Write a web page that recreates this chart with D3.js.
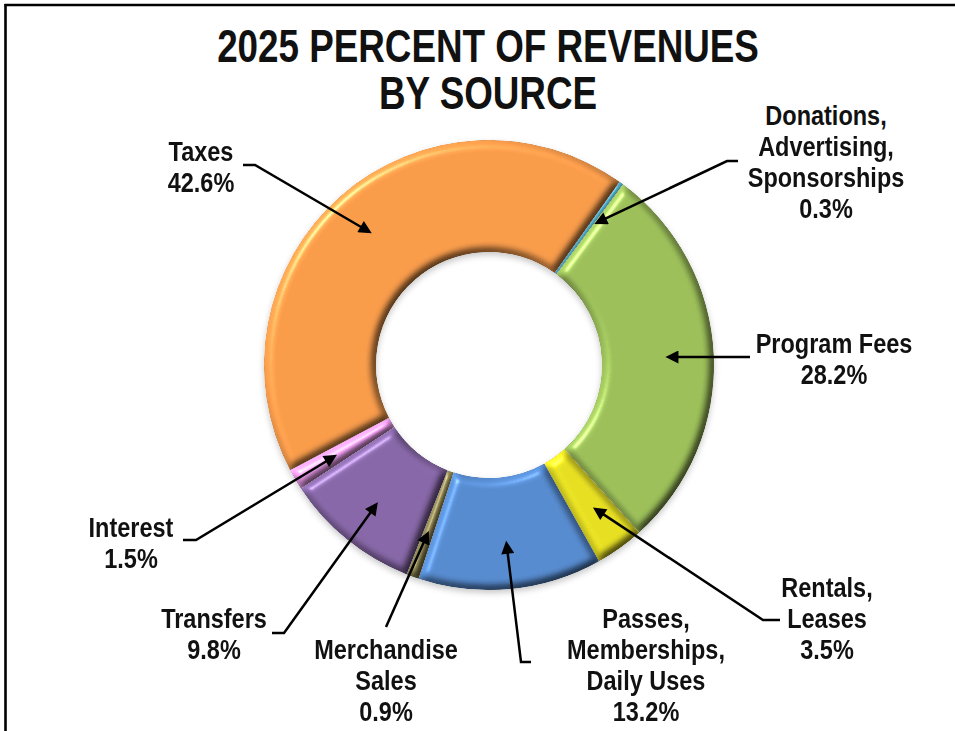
<!DOCTYPE html>
<html>
<head>
<meta charset="utf-8">
<script src="https://cdn.jsdelivr.net/npm/d3@7"></script>
<style>
  html, body { margin: 0; padding: 0; background: #ffffff; }
  svg { display: block; }
  text { font-family: "Liberation Sans", Arial, sans-serif; font-weight: bold; fill: #111; }
</style>
</head>
<body>
<script>
// Revenue sources, listed clockwise from the top of the ring
const categories = [
  "Donations, Advertising, Sponsorships",
  "Program Fees",
  "Rentals, Leases",
  "Passes, Memberships, Daily Uses",
  "Merchandise Sales",
  "Transfers",
  "Interest",
  "Taxes"
];
const shares = [0.3, 28.2, 3.5, 13.2, 0.9, 9.8, 1.5, 42.6];
const labelLines = [
  ["Donations,", "Advertising,", "Sponsorships"],
  ["Program Fees"],
  ["Rentals,", "Leases"],
  ["Passes,", "Memberships,", "Daily Uses"],
  ["Merchandise", "Sales"],
  ["Transfers"],
  ["Interest"],
  ["Taxes"]
];
const sliceColors = ["#4aa2bc", "#9cbf5a", "#e6df24", "#578bcf", "#8a8150", "#8767a7", "#f09ef0", "#f89c4c"];
const titleLines = ["2025 PERCENT OF REVENUES", "BY SOURCE"];

// Callout placement: text anchor (first baseline) and leader start / elbow
const callouts = [
  { x: 826, y: 125, start: [738, 161], elbow: [727, 161] },
  { x: 834, y: 353, start: [750, 357], elbow: null },
  { x: 827, y: 597, start: [780, 620], elbow: [763, 620] },
  { x: 646, y: 628, start: [531, 662], elbow: [521, 662] },
  { x: 386, y: 659, start: [386, 627], elbow: null },
  { x: 214, y: 628, start: [272, 633], elbow: [284, 633] },
  { x: 131, y: 537, start: [183, 540], elbow: [196, 540] },
  { x: 201, y: 161, start: [243, 165], elbow: [255, 165] }
];

const W = 955, H = 731;
const cx = 489, cy = 365, outerR = 225, innerR = 113;
const startDeg = 35.5;
const lineGap = 31;
const labelSize = 27, labelStretch = 0.87;

const svg = d3.select("body").append("svg")
  .attr("width", W).attr("height", H);

const defs = svg.append("defs");

// Bevelled, lit look for each slice: colour * (ambient + diffuse) + specular rim
const bevel = defs.append("filter").attr("id", "bevel")
  .attr("x", "-10%").attr("y", "-10%").attr("width", "120%").attr("height", "120%")
  .attr("color-interpolation-filters", "sRGB");
bevel.append("feGaussianBlur").attr("in", "SourceAlpha").attr("stdDeviation", 4.2).attr("result", "blur");
bevel.append("feDiffuseLighting").attr("in", "blur").attr("surfaceScale", 7)
  .attr("diffuseConstant", 1).attr("lighting-color", "#ffffff").attr("result", "diff")
  .append("feDistantLight").attr("azimuth", 225).attr("elevation", 55);
bevel.append("feComposite").attr("in", "SourceGraphic").attr("in2", "diff")
  .attr("operator", "arithmetic").attr("k1", 0.82).attr("k2", 0.33).attr("k3", 0).attr("k4", 0)
  .attr("result", "lit");
bevel.append("feSpecularLighting").attr("in", "blur").attr("surfaceScale", 7)
  .attr("specularConstant", 0.6).attr("specularExponent", 40)
  .attr("lighting-color", "#ffffff").attr("result", "spec")
  .append("feDistantLight").attr("azimuth", 225).attr("elevation", 35);
bevel.append("feComposite").attr("in", "spec").attr("in2", "SourceAlpha")
  .attr("operator", "in").attr("result", "specIn");
bevel.append("feComposite").attr("in", "lit").attr("in2", "specIn")
  .attr("operator", "arithmetic").attr("k1", 0).attr("k2", 1).attr("k3", 0.5).attr("k4", 0)
  .attr("result", "shaded");
bevel.append("feComposite").attr("in", "shaded").attr("in2", "SourceAlpha").attr("operator", "in");

// Soft shadow under the ring
const shadow = defs.append("filter").attr("id", "ringShadow")
  .attr("x", "-10%").attr("y", "-10%").attr("width", "120%").attr("height", "125%");
shadow.append("feDropShadow").attr("dx", 0).attr("dy", 3).attr("stdDeviation", 3)
  .attr("flood-color", "#000").attr("flood-opacity", 0.22);

// Arrowhead for callout leaders
defs.append("marker").attr("id", "arrow")
  .attr("viewBox", "0 0 10 10").attr("refX", 2).attr("refY", 5)
  .attr("markerWidth", 17).attr("markerHeight", 13)
  .attr("markerUnits", "userSpaceOnUse").attr("orient", "auto")
  .append("path").attr("d", "M0,0L10,5L0,10Z").attr("fill", "#000");

// Frame (top and left rules)
svg.append("line").attr("x1", 4.5).attr("y1", 5).attr("x2", W).attr("y2", 5)
  .attr("stroke", "#000").attr("stroke-width", 2.6);
svg.append("line").attr("x1", 5.5).attr("y1", 4).attr("x2", 5.5).attr("y2", H)
  .attr("stroke", "#000").attr("stroke-width", 2.6);

// Title
const title = svg.append("g");
titleLines.forEach((t, i) => {
  title.append("text")
    .attr("transform", `translate(488,${62 + i * 47}) scale(0.8,1)`)
    .attr("text-anchor", "middle")
    .attr("font-size", 46)
    .text(t);
});

// Ring
const rad = d => d * Math.PI / 180;
const pie = d3.pie().sort(null).value(d => d)
  .startAngle(rad(startDeg)).endAngle(rad(startDeg) + 2 * Math.PI);
const slices = pie(shares);
const arc = d3.arc().innerRadius(innerR).outerRadius(outerR);
const tipArc = d3.arc().innerRadius(172).outerRadius(172);

const ring = svg.append("g")
  .attr("transform", `translate(${cx},${cy})`)
  .attr("filter", "url(#ringShadow)");
ring.selectAll("path.slice")
  .data(slices)
  .join("path")
  .attr("class", "slice")
  .attr("d", arc)
  .attr("fill", (d, i) => sliceColors[i])
  .attr("filter", "url(#bevel)");

// Leader lines ending in arrows inside each slice
const fmt = d3.format(".1f");
const leaders = svg.append("g");
slices.forEach((s, i) => {
  const c = callouts[i];
  const [tx, ty] = tipArc.centroid(s);
  const tip = [cx + tx, cy + ty];
  const from = c.elbow || c.start;
  const dx = tip[0] - from[0], dy = tip[1] - from[1];
  const len = Math.hypot(dx, dy);
  const end = [tip[0] - dx / len * 15, tip[1] - dy / len * 15];
  const pts = c.elbow ? [c.start, c.elbow, end] : [c.start, end];
  leaders.append("path")
    .attr("d", d3.line()(pts))
    .attr("fill", "none")
    .attr("stroke", "#000")
    .attr("stroke-width", 2.5)
    .attr("marker-end", "url(#arrow)");
});

// Callout texts
const labels = svg.append("g");
categories.forEach((name, i) => {
  const c = callouts[i];
  const lines = labelLines[i].concat([fmt(shares[i]) + "%"]);
  lines.forEach((t, j) => {
    labels.append("text")
      .attr("transform", `translate(${c.x},${c.y + j * lineGap}) scale(${labelStretch},1)`)
      .attr("text-anchor", "middle")
      .attr("font-size", labelSize)
      .text(t);
  });
});
</script>
</body>
</html>
